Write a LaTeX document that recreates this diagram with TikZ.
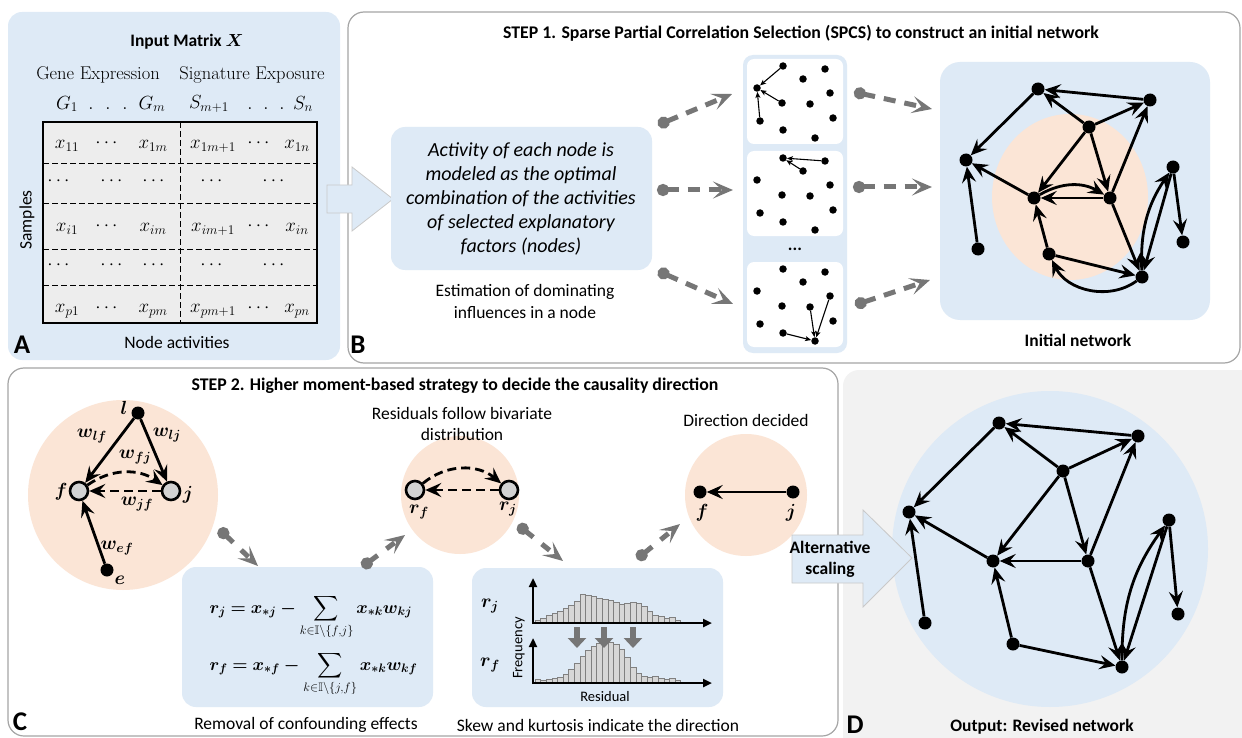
\documentclass[tikz,border=0pt]{standalone}
\usepackage{fix-cm}
\usepackage{amsmath,amssymb,bm}
\usepackage{fontspec}
\setsansfont{Carlito}
\renewcommand{\familydefault}{\sfdefault}
\usetikzlibrary{arrows.meta,calc,positioning}

\definecolor{panelblue}{RGB}{222,234,246}
\definecolor{peach}{RGB}{251,229,214}
\definecolor{panelgray}{RGB}{242,242,242}
\definecolor{linkgray}{RGB}{118,118,118}
\definecolor{framegray}{RGB}{165,165,165}
\definecolor{cellgray}{RGB}{237,237,237}
\definecolor{bargray}{RGB}{215,215,215}

\newcommand{\bodysize}{\fontsize{17.5}{21}\selectfont}
\newcommand{\mathsize}{\fontsize{19}{22}\selectfont}
\newcommand{\titlesize}{\fontsize{17.8}{20}\selectfont\bfseries}
\newcommand{\labelsize}{\fontsize{17.5}{21}\selectfont\bfseries}
\newcommand{\lettersize}{\fontsize{27}{30}\selectfont\bfseries}

\begin{document}
\begin{tikzpicture}[x=1pt, y=-1pt, font=\bodysize,
  netdot/.style={circle, fill=black, inner sep=0pt, minimum size=13pt},
  minidot/.style={circle, fill=black, inner sep=0pt, minimum size=7.5pt},
  ringnode/.style={circle, draw=black, fill=gray!35, line width=2.6pt, inner sep=0pt, minimum size=18pt},
  net/.style={line width=2.8pt, -{Stealth[length=16pt,width=14pt,inset=6pt]}},
  mini/.style={line width=1.1pt, -{Stealth[length=6pt,width=5pt,inset=1.5pt]}},
  dashlink/.style={net, dash pattern=on 9pt off 5pt},
  flow/.style={draw=linkgray, line width=5pt, dash pattern=on 12pt off 9pt,
    {Circle[length=12pt]}-{Stealth[length=20pt,width=17pt,inset=9pt]}},
  panel/.style={draw=framegray, line width=1.2pt, rounded corners=16pt},
  softbox/.style={fill=panelblue, rounded corners=14pt},
  bar/.style={fill=bargray, draw=gray, line width=0.6pt},
  axis/.style={line width=2.4pt, -{Triangle[length=9pt,width=8pt]}},
  drop/.style={draw=linkgray, line width=6pt, -{Triangle[length=10pt,width=18pt]}},
  bigarrow/.style={draw=framegray!60, fill=panelblue, line width=0.8pt},
  wlabel/.style={font=\mathsize}
]
\useasboundingbox (0,0) rectangle (1242,738);
\clip (0,0) rectangle (1242,738);

% panels
\fill[panelblue, rounded corners=14pt] (8,12) rectangle (340,360);
\draw[panel, fill=white] (348,12) rectangle (1240,363);
\draw[panel, fill=white] (8,368) rectangle (838,736);
\fill[panelgray, rounded corners=16pt] (843,370) rectangle (1262,760);

% A: input matrix
\node (titleA) at (187,42) {\labelsize Input Matrix $\bm{X}$};
\node[font=\fontsize{18.5}{22}\selectfont\rmfamily] (gene) at (98,75) {Gene Expression};
\node[font=\fontsize{18.5}{22}\selectfont\rmfamily] (sig) at (252,75) {Signature Exposure};
\begin{scope}[font=\mathsize]
\node (g1) at (67,104) {$G_1$};
\foreach \x [count=\k] in {91,108,125} \node[anchor=base] (gd\k) at (\x,110) {$.$};
\node (gm) at (152,104) {$G_m$};
\node (s1) at (209,104) {$S_{m+1}$};
\foreach \x [count=\k] in {250,266,282} \node[anchor=base] (sd\k) at (\x,110) {$.$};
\node (sn) at (303,104) {$S_n$};
\end{scope}
\filldraw[fill=cellgray, line width=1.5pt] (43,122) rectangle (317,323);
\draw[line width=0.9pt, dash pattern=on 6pt off 3pt] (180,122) -- (180,323);
\foreach \y in {163,203,249,285}
  \draw[line width=0.9pt, dash pattern=on 6pt off 3pt] (43,\y) -- (317,\y);
\begin{scope}[font=\mathsize]
\foreach \y/\ca/\cc/\cd/\cf [count=\r] in {146/x_{11}/x_{1m}/x_{1m+1}/x_{1n},
    229/x_{i1}/x_{im}/x_{im+1}/x_{in}, 311/x_{p1}/x_{pm}/x_{pm+1}/x_{pn}} {
  \node (c\r a) at (67,\y) {$\ca$};
  \node (c\r b) at (108,\y-3) {$\cdots$};
  \node (c\r c) at (153,\y) {$\cc$};
  \node (c\r d) at (213,\y) {$\cd$};
  \node (c\r e) at (260,\y-3) {$\cdots$};
  \node (c\r f) at (297,\y) {$\cf$};
}
\foreach \y [count=\r] in {181,265}
  \foreach \x [count=\k] in {60,113,155,213,275}
    \node (e\r-\k) at (\x,\y) {$\cdots$};
\end{scope}
\node[rotate=90] (samples) at (27,220) {Samples};
\node (nodeact) at (177,342) {Node activities};
\node (letA) at (22,345) {\lettersize A};

% A -> B
\draw[bigarrow] (327,185) -- (352,185) -- (352,167) -- (393,199) -- (352,231) -- (352,213) -- (327,213) -- cycle;

% B: step 1
\node (titleB) at (801,33) {\titlesize STEP 1. Sparse Partial Correlation Selection (SPCS) to construct an initial network};
\fill[softbox] (391,127) rectangle (652,270);
\node[align=center, font=\fontsize{20}{24}\selectfont\itshape] (model) at (521,199)
  {Activity of each node is\\ modeled as the optimal\\ combination of the activities\\ of selected explanatory\\ factors (nodes)};
\node[align=center, font=\fontsize{17.5}{22}\selectfont] (estim) at (525,301) {Estimation of dominating\\ influences in a node};
\node (letB) at (358,345) {\lettersize B};

\fill[panelblue, rounded corners=10pt] (743,55) rectangle (847,353);
\foreach \t in {59,151,262}
  \fill[white, rounded corners=7pt] (747,\t) rectangle (843,\t+85);
\node (vdots) at (795,249) {\bfseries ...};
\foreach \t/\k in {59/1,151/2,262/3}
  \foreach \x/\y [count=\i] in {783/7,825/10,803/20,757/29,830/34,782/44,810/45,760/62,833/59,783/71,815/79}
    \node[minidot] (d\k-\i) at (\x,\t+\y) {};
\foreach \a in {1,6,8} \draw[mini] (d1-\a) -- (d1-4);
\foreach \a in {2,3} \draw[mini] (d2-\a) -- (d2-1);
\foreach \a in {10,7,5} \draw[mini] (d3-\a) -- (d3-11);

\foreach \i/\sx/\sy/\ex/\ey in {1/658/125/732/94, 2/657/190/733/190, 3/658/271/733/304,
    4/854/92/932/109, 5/853/187/932/187, 6/855/305/930/280} {
  \coordinate (fs\i) at (\sx,\sy);
  \coordinate (fe\i) at (\ex,\ey);
  \draw[flow] (fs\i) -- (fe\i);
}

% initial network
\fill[softbox, rounded corners=20pt] (940,62) rectangle (1210,320);
\fill[peach] (1070,197) ellipse [x radius=78, y radius=83];
\foreach \x/\y [count=\i] in {1038/89,1150/100,1089/127,966/160,1173/167,1034/198,1110/198,978/249,1183/242,1049/254,1142/277}
  \node[netdot] (n\i) at (\x,\y) {};
\foreach \a/\b in {2/1,3/1,3/2,1/4,8/4,6/4,3/6,3/7,7/6,7/2,7/11,10/6,10/11,5/11,5/9}
  \draw[net] (n\a) -- (n\b);
\draw[net] (n6) to[bend left=30] (n7);
\draw[net] (n11) to[bend left=50] (n10);
\draw[net] (n11) to[bend left=18] (n5);
\node (initial) at (1078,340) {\labelsize Initial network};

% C: step 2
\node (titleC) at (455,386) {\titlesize STEP 2. Higher moment-based strategy to decide the causality direction};
\node (letC) at (20,722) {\lettersize C};

\fill[peach] (123,495) circle (95);
\node[netdot] (l) at (138,413) {};
\node[ringnode] (f) at (79,491) {};
\node[ringnode] (j) at (171,491) {};
\node[netdot] (e) at (107,570) {};
\draw[net] (l) -- (f);
\draw[net] (l) -- (j);
\draw[dashlink] (j) -- (f);
\draw[dashlink] (f) to[bend left=35] (j);
\draw[net] (e) -- (f);
\node[wlabel] (lab-l) at (124,408) {$\bm{l}$};
\node[wlabel] (lab-f) at (61,492) {$\bm{f}$};
\node[wlabel] (lab-j) at (188,495) {$\bm{j}$};
\node[wlabel] (lab-e) at (120,580) {$\bm{e}$};
\node[wlabel] (wlf) at (92,436) {$\bm{w_{lf}}$};
\node[wlabel] (wlj) at (167,435) {$\bm{w_{lj}}$};
\node[wlabel] (wfj) at (135,457) {$\bm{w_{fj}}$};
\node[wlabel] (wjf) at (137,504) {$\bm{w_{jf}}$};
\node[wlabel] (wef) at (117,548) {$\bm{w_{ef}}$};

\fill[peach] (460,495) circle (59);
\node[ringnode] (rf) at (415,490) {};
\node[ringnode] (rj) at (509,490) {};
\draw[dashlink] (rj) -- (rf);
\draw[dashlink] (rf) to[bend left=40] (rj);
\node[wlabel] (lab-rf) at (419,512) {$\bm{r_f}$};
\node[wlabel] (lab-rj) at (508,509) {$\bm{r_j}$};
\node[align=center, font=\fontsize{17.5}{21}\selectfont] (resid) at (462,424) {Residuals follow bivariate\\ distribution};

\fill[peach] (746,495) circle (61);
\node[netdot] (f2) at (700,492) {};
\node[netdot] (j2) at (793,492) {};
\draw[net] (j2) -- (f2);
\node[wlabel] (lab-f2) at (702,513) {$\bm{f}$};
\node[wlabel] (lab-j2) at (791,513) {$\bm{j}$};
\node (decided) at (746,420) {Direction decided};

\fill[softbox] (182,567) rectangle (433,707);
\node[anchor=base west, font=\fontsize{17.5}{20}\selectfont] (eqj) at (206,613)
  {$\displaystyle \bm{r_j = x_{*j} -} \sum_{k\in\mathbb{I}\setminus\{f,j\}} \bm{x_{*k}w_{kj}}$};
\node[anchor=base west, font=\fontsize{17.5}{20}\selectfont] (eqf) at (206,670)
  {$\displaystyle \bm{r_f = x_{*f} -} \sum_{k\in\mathbb{I}\setminus\{j,f\}} \bm{x_{*k}w_{kf}}$};
\node (removal) at (306,725) {Removal of confounding effects};

\fill[softbox] (472,568) rectangle (723,707);
\foreach \h [count=\i] in {3,5,8,10,12,15,18,22,29,28,27,25,24,23,21,19,20,21,20,17,12,8,7,5,6,3}
  \draw[bar] ({535+(\i-1)*5.6},623) rectangle ++(5.6,-\h);
\foreach \h [count=\i] in {4,3,4,5,6,9,14,20,27,33,37,40,41,41,39,34,26,16,10,7,6,7,5,4,5,3}
  \draw[bar] ({535+(\i-1)*5.6},683) rectangle ++(5.6,-\h);
\draw[axis] (533,624) -- (533,578);
\draw[axis] (532,623) -- (712,623);
\draw[axis] (533,684) -- (533,638);
\draw[axis] (532,683) -- (712,683);
\foreach \x in {577,604,633}
  \draw[drop] (\x,627) -- (\x,648);
\node[rotate=90, font=\fontsize{14.5}{16}\selectfont] (freq) at (519,648) {Frequency};
\node[font=\fontsize{14.5}{16}\selectfont] (residual) at (605,697) {Residual};
\node[wlabel] (hrj) at (490,606) {$\bm{r_j}$};
\node[wlabel] (hrf) at (490,665) {$\bm{r_f}$};
\node (skew) at (598,725) {Skew and kurtosis indicate the direction};

\foreach \i/\sx/\sy/\ex/\ey in {7/219/529/258/566, 8/362/567/405/535, 9/518/525/563/561, 10/637/559/680/524} {
  \coordinate (fs\i) at (\sx,\sy);
  \coordinate (fe\i) at (\ex,\ey);
  \draw[flow, dash pattern=on 10pt off 11pt] (fs\i) -- (fe\i);
}

% D: revised network
\fill[panelblue] (1050,549) circle (158);
\foreach \x/\y [count=\i] in {999/423,1138/436,1063/471,909/512,1169/520,993/561,1088/561,925/623,1178/614,1013/644,1122/667}
  \node[netdot] (m\i) at (\x,\y) {};
\foreach \a/\b in {2/1,3/1,3/2,1/4,8/4,6/4,3/6,3/7,7/6,7/2,7/11,10/6,10/11,5/11,5/9}
  \draw[net] (m\a) -- (m\b);
\draw[net] (m11) to[bend left=18] (m5);
\node (revised) at (1042,727) {\labelsize Output: Revised network};
\node (letD) at (855,725) {\lettersize D};

\draw[bigarrow] (792,535) -- (863,535) -- (863,510) -- (912,558) -- (863,607) -- (863,583) -- (792,583) -- cycle;
\node[align=center, font=\labelsize] (altscale) at (830,559) {Alternative\\ scaling};
\end{tikzpicture}
\end{document}
